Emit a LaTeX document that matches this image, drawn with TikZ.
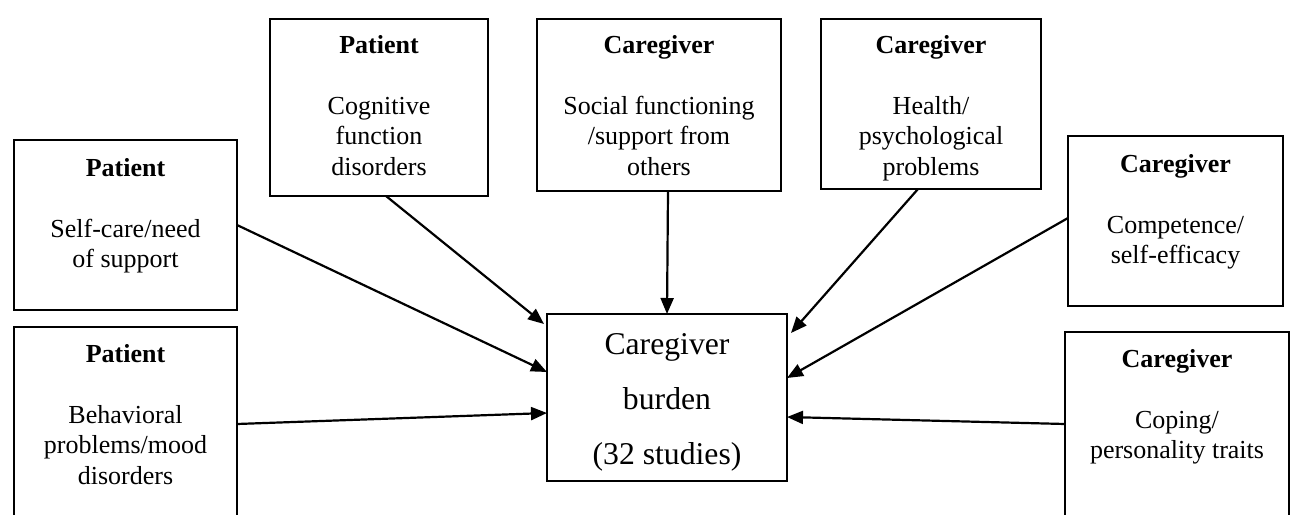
\documentclass[tikz,border=0pt]{standalone}
\usepackage{fontspec}
\setmainfont{Liberation Serif}
\usetikzlibrary{arrows.meta}
\newcommand\boxlines[1]{\begin{tabular}[t]{@{}c@{}}#1\end{tabular}}
\begin{document}
\begin{tikzpicture}[x=1pt,y=-1pt,
  frame/.style={draw=black,line width=1.7pt,rectangle,inner sep=0pt,outer sep=0pt},
  txt/.style={anchor=base,inner sep=0pt,font=\fontsize{26}{30.5}\selectfont},
  bigtxt/.style={anchor=base,inner sep=0pt,font=\fontsize{31.7}{55}\selectfont},
  link/.style={line width=2.2pt,-{Triangle[length=16pt,width=13pt]}}]
\useasboundingbox (0,0) rectangle (1293,514);
\clip (0,0) rectangle (1293,514);
% boxes
\node[frame,minimum width=223pt,minimum height=170pt] (A) at (125.5,225) {};
\node[frame,minimum width=223pt,minimum height=203pt] (B) at (125.5,428.5) {};
\node[frame,minimum width=218pt,minimum height=177pt] (C) at (379,107.5) {};
\node[frame,minimum width=244pt,minimum height=172pt] (D) at (659,105) {};
\node[frame,minimum width=220pt,minimum height=170pt] (E) at (931,104) {};
\node[frame,minimum width=215pt,minimum height=170pt] (F) at (1175.5,221) {};
\node[frame,minimum width=224pt,minimum height=198pt] (G) at (1177,431) {};
\node[frame,minimum width=240pt,minimum height=167pt] (M) at (667,397.5) {};
% texts
\node[txt] (tA) at (125.5,176) {\boxlines{\textbf{Patient}\\ \\ Self-care/need\\ of support}};
\node[txt] (tB) at (125.5,362) {\boxlines{\textbf{Patient}\\ \\ Behavioral\\ problems/mood\\ disorders}};
\node[txt] (tC) at (379,53) {\boxlines{\textbf{Patient}\\ \\ Cognitive\\ function\\ disorders}};
\node[txt] (tD) at (659,53) {\boxlines{\textbf{Caregiver}\\ \\ Social functioning\\ /support from\\ others}};
\node[txt] (tE) at (931,53) {\boxlines{\textbf{Caregiver}\\ \\ Health/\\ psychological\\ problems}};
\node[txt] (tF) at (1175.5,172) {\boxlines{\textbf{Caregiver}\\ \\ Competence/\\ self-efficacy}};
\node[txt] (tG) at (1177,367) {\boxlines{\textbf{Caregiver}\\ \\ Coping/\\ personality traits}};
\node[bigtxt] (tM) at (667,354) {\boxlines{Caregiver\\ burden\\ (32 studies)}};
% connectors
\draw[link] (A.east) -- ([yshift=25.5pt]M.west);
\draw[link] ([yshift=4.5pt]B.east) -- ([yshift=-15.5pt]M.west);
\draw[link] ([xshift=7pt]C.south) -- ([xshift=-3pt,yshift=-10pt]M.north west);
\draw[link] ([xshift=9pt]D.south) -- (M.north);
\draw[link] ([xshift=-13pt]E.south) -- ([xshift=4pt,yshift=-19pt]M.north east);
\draw[link] ([yshift=3pt]F.west) -- ([yshift=19.5pt]M.east);
\draw[link] ([yshift=7pt]G.west) -- ([yshift=-19.5pt]M.east);
\end{tikzpicture}
\end{document}
